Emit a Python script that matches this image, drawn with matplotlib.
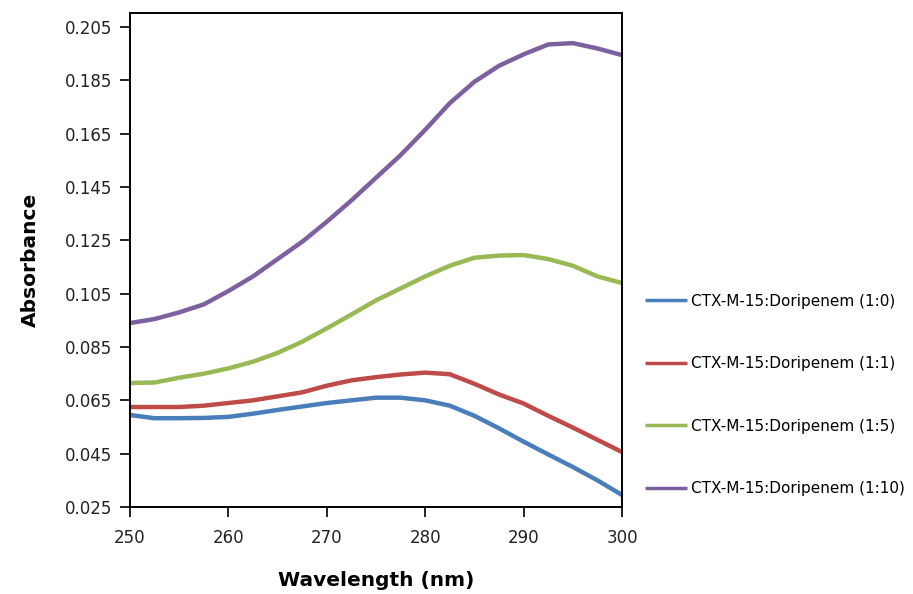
import matplotlib
matplotlib.use('Agg')
import matplotlib.pyplot as plt

# wavelength grid (nm), every 2.5 nm
wavelength = [250, 252.5, 255, 257.5, 260, 262.5, 265, 267.5, 270, 272.5, 275,
              277.5, 280, 282.5, 285, 287.5, 290, 292.5, 295, 297.5, 300]

abs_1_0 = [0.0595, 0.0583, 0.0583, 0.0584, 0.0588, 0.0600, 0.0614, 0.0627, 0.0640, 0.0650, 0.0660,
           0.0660, 0.0650, 0.0630, 0.0592, 0.0545, 0.0495, 0.0447, 0.0400, 0.0350, 0.0295]
abs_1_1 = [0.0625, 0.0625, 0.0625, 0.0630, 0.0640, 0.0650, 0.0665, 0.0680, 0.0705, 0.0725, 0.0737,
           0.0747, 0.0754, 0.0748, 0.0712, 0.0672, 0.0638, 0.0592, 0.0548, 0.0502, 0.0456]
abs_1_5 = [0.0715, 0.0717, 0.0735, 0.0750, 0.0770, 0.0795, 0.0828, 0.0870, 0.0920, 0.0972, 0.1025,
           0.1070, 0.1115, 0.1155, 0.1185, 0.1193, 0.1195, 0.1180, 0.1155, 0.1115, 0.1090]
abs_1_10 = [0.0940, 0.0955, 0.0980, 0.1010, 0.1060, 0.1115, 0.1180, 0.1245, 0.1320, 0.1400, 0.1485,
            0.1570, 0.1665, 0.1765, 0.1845, 0.1905, 0.1948, 0.1985, 0.1990, 0.1970, 0.1945]

labels = ['CTX-M-15:Doripenem (1:0)', 'CTX-M-15:Doripenem (1:1)',
          'CTX-M-15:Doripenem (1:5)', 'CTX-M-15:Doripenem (1:10)']
colors = ['#4A7EBB', '#BE4B48', '#98B954', '#7D60A0']

xticks = [250, 260, 270, 280, 290, 300]
yticks = [0.025, 0.045, 0.065, 0.085, 0.105, 0.125, 0.145, 0.165, 0.185, 0.205]

plt.rcParams['font.family'] = ['DejaVu Sans']

fig = plt.figure(figsize=(9.13, 5.94), dpi=100)
ax = fig.add_axes([0.1424, 0.1465, 0.5389, 0.8316])

for ys, lab, c in zip([abs_1_0, abs_1_1, abs_1_5, abs_1_10], labels, colors):
    ax.plot(wavelength, ys, color=c, lw=3.2, label=lab, solid_capstyle='butt',
            solid_joinstyle='round')

ax.set_xlim(250, 300)
ax.set_ylim(0.025, 0.2103)
ax.set_xticks(xticks)
ax.set_yticks(yticks)
ax.set_yticklabels(['%.3f' % v for v in yticks])
ax.tick_params(axis='both', direction='out', length=7, width=1.4, labelsize=12, colors='#222222')
ax.tick_params(axis='x', pad=9)
ax.tick_params(axis='y', pad=6)
for s in ax.spines.values():
    s.set_linewidth(1.4)

ax.set_xlabel('Wavelength (nm)', fontsize=14.5, fontweight='bold', labelpad=17)
ax.set_ylabel('Absorbance', fontsize=14.5, fontweight='bold', labelpad=18)

leg = ax.legend(loc='center left', bbox_to_anchor=(1.018, 0.227), frameon=False,
                fontsize=11, labelspacing=3.1, handlelength=2.8, handletextpad=0.25)
for h in leg.get_lines():
    h.set_linewidth(2.5)

fig.savefig('out.png', dpi=100)
